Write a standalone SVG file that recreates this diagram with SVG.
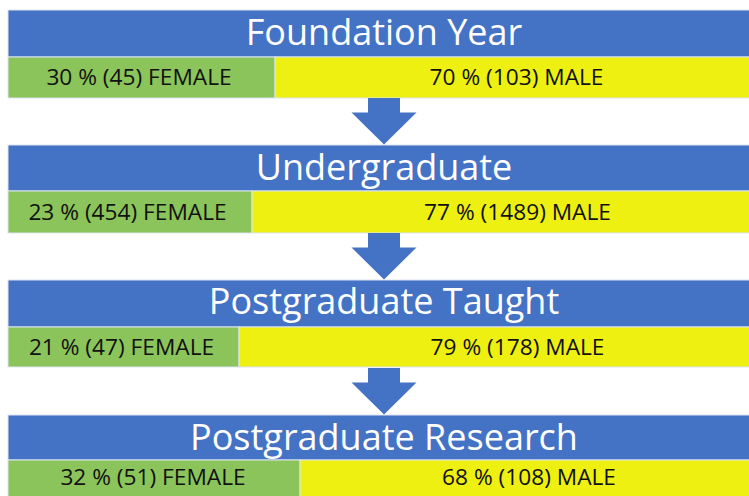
<svg xmlns="http://www.w3.org/2000/svg" width="749" height="496" viewBox="0 0 749 496">
  <style>
    .head { fill: #4472C4; stroke: #dbe3f1; stroke-width: 1; }
    .fem { fill: #8BC45A; stroke: #dbe3f1; stroke-width: 1; }
    .male { fill: #EEF012; stroke: #dbe3f1; stroke-width: 1; }
    .title { font-family: "Open Sans", "Liberation Sans", sans-serif; font-size: 36px; fill: #ffffff; text-anchor: middle; }
    .lbl { font-family: "Open Sans", "Liberation Sans", sans-serif; font-size: 22.7px; fill: #111111; text-anchor: middle; }
    .arrow { fill: #4472C4; }
  </style>
  <defs>
    <polygon id="down" points="-16,0 16,0 16,14.5 32.5,14.5 0,46.5 -32.5,14.5 -16,14.5"/>
  </defs>

  <rect width="749" height="496" fill="#ffffff"/>

  <g id="foundation-year">
    <rect class="head" x="8" y="10" width="752" height="47"/>
    <text class="title" x="384" y="45">Foundation Year</text>
    <rect class="fem" x="8" y="57" width="267" height="41"/>
    <rect class="male" x="275" y="57" width="485" height="41"/>
    <text class="lbl" x="139" y="85">30 % (45) FEMALE</text>
    <text class="lbl" x="516.5" y="85">70 % (103) MALE</text>
  </g>

  <g id="undergraduate">
    <rect class="head" x="8" y="145" width="752" height="46"/>
    <text class="title" x="384" y="180">Undergraduate</text>
    <rect class="fem" x="8" y="191" width="244" height="42"/>
    <rect class="male" x="252" y="191" width="508" height="42"/>
    <text class="lbl" x="127.5" y="220">23 % (454) FEMALE</text>
    <text class="lbl" x="517.5" y="220">77 % (1489) MALE</text>
  </g>

  <g id="postgraduate-taught">
    <rect class="head" x="8" y="280" width="752" height="47"/>
    <text class="title" x="384" y="314">Postgraduate Taught</text>
    <rect class="fem" x="8" y="327" width="231" height="40"/>
    <rect class="male" x="239" y="327" width="521" height="40"/>
    <text class="lbl" x="121.5" y="355">21 % (47) FEMALE</text>
    <text class="lbl" x="517.5" y="355">79 % (178) MALE</text>
  </g>

  <g id="postgraduate-research">
    <rect class="head" x="8" y="415" width="752" height="45"/>
    <text class="title" x="384" y="450">Postgraduate Research</text>
    <rect class="fem" x="8" y="460" width="292" height="44"/>
    <rect class="male" x="300" y="460" width="460" height="44"/>
    <text class="lbl" x="153" y="485">32 % (51) FEMALE</text>
    <text class="lbl" x="529" y="485">68 % (108) MALE</text>
  </g>

  <g id="connectors">
    <use href="#down" class="arrow" x="384" y="98"/>
    <use href="#down" class="arrow" x="384" y="233"/>
    <use href="#down" class="arrow" x="384" y="368"/>
  </g>
</svg>
